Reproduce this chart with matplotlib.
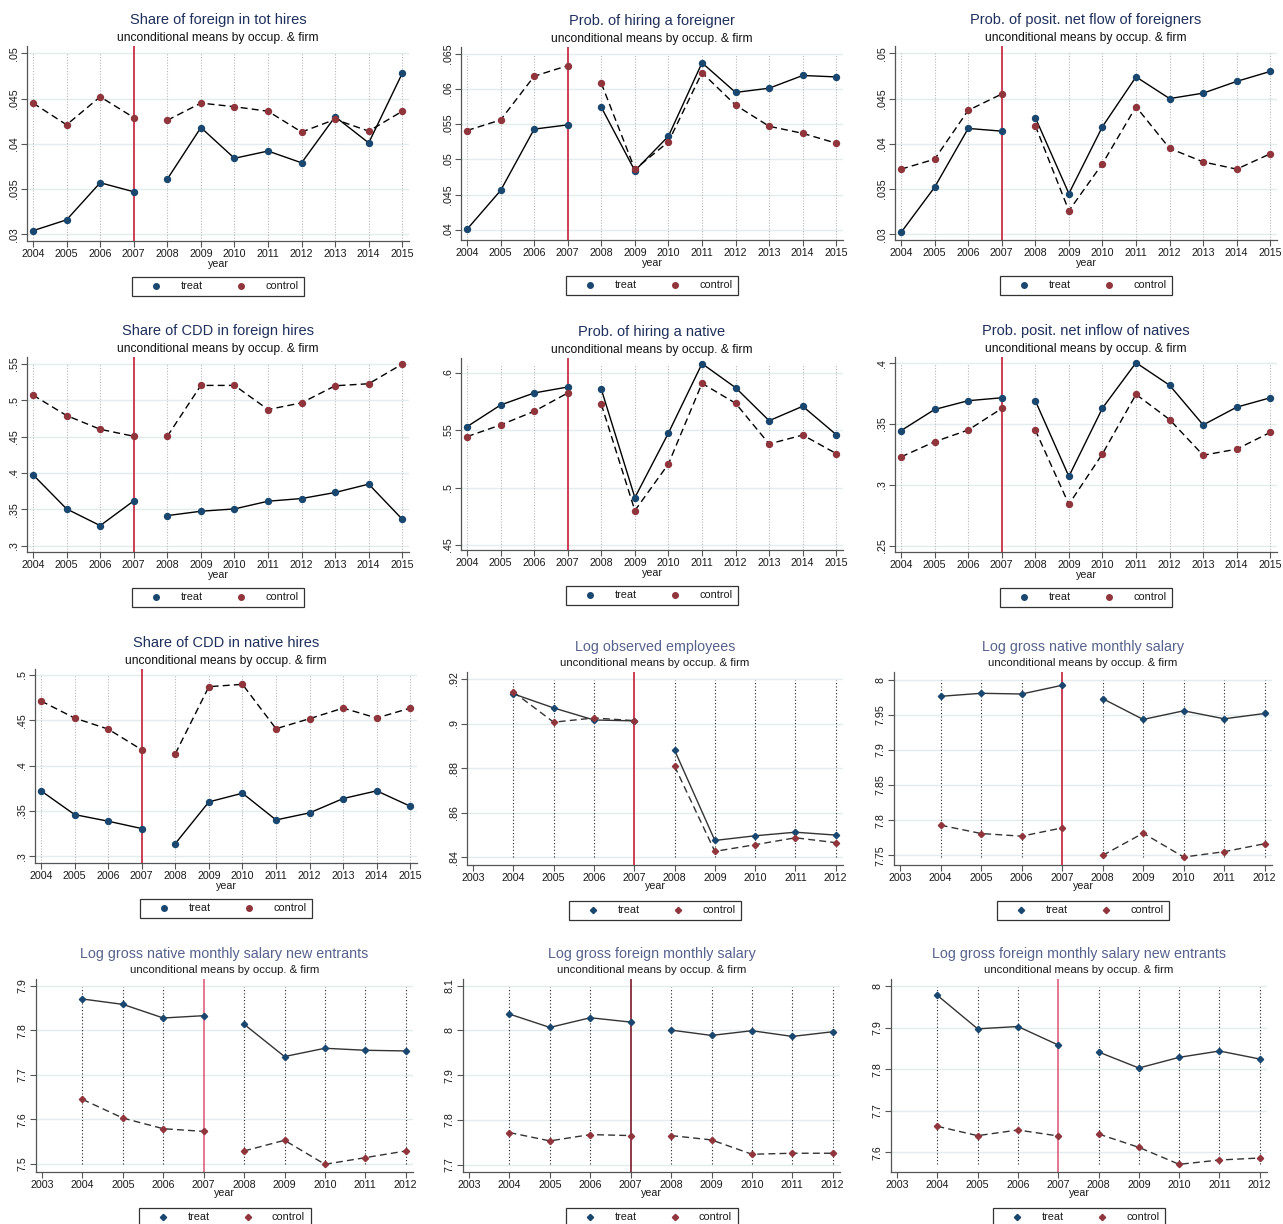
import matplotlib
matplotlib.use("Agg")
import matplotlib.pyplot as plt
from matplotlib.lines import Line2D
from matplotlib.patches import Rectangle
import numpy as np

plt.rcParams['font.family'] = ['Liberation Sans', 'DejaVu Sans']

# ---------------- data ----------------
years_a = np.arange(2004, 2016)   # panels 1-7
years_b = np.arange(2004, 2013)   # panels 8-12
ticks_a = list(range(2004, 2016))
ticks_b = list(range(2003, 2013))

subtitle = "unconditional means by occup. & firm"
titles = [
    "Share of foreign in tot hires",
    "Prob. of hiring a foreigner",
    "Prob. of posit. net flow of foreigners",
    "Share of CDD in foreign hires",
    "Prob. of hiring a native",
    "Prob. posit. net inflow of natives",
    "Share of CDD in native hires",
    "Log observed employees",
    "Log gross native monthly salary",
    "Log gross native monthly salary new entrants",
    "Log gross foreign monthly salary",
    "Log gross foreign monthly salary new entrants",
]

treat_1 = [.0304, .0316, .0357, .0347, .0361, .0418, .0384, .0392, .0379, .0430, .0401, .0478]
control_1 = [.0445, .0421, .0452, .0429, .0426, .0445, .0441, .0436, .0413, .0427, .0414, .0436]

treat_2 = [.0401, .0456, .0543, .0549, .0574, .0484, .0533, .0637, .0595, .0601, .0619, .0617]
control_2 = [.0541, .0556, .0618, .0633, .0608, .0486, .0525, .0623, .0577, .0547, .0537, .0523]

treat_3 = [.0302, .0352, .0417, .0414, .0429, .0345, .0419, .0474, .0450, .0456, .0469, .0480]
control_3 = [.0372, .0383, .0437, .0455, .0420, .0326, .0378, .0441, .0395, .0380, .0372, .0389]

treat_4 = [.3976, .3506, .3276, .3617, .3414, .3474, .3506, .3612, .3649, .3732, .3847, .3364]
control_4 = [.5072, .4791, .4602, .4506, .4506, .5206, .5206, .4874, .4966, .5201, .5229, .5500]

treat_5 = [.5532, .5721, .5826, .5878, .5858, .4913, .5477, .6082, .5872, .5584, .5710, .5462]
control_5 = [.5445, .5547, .5666, .5826, .5727, .4800, .5207, .5910, .5736, .5381, .5459, .5297]

treat_6 = [.3445, .3619, .3691, .3715, .3691, .3069, .3630, .4003, .3818, .3492, .3638, .3715]
control_6 = [.3229, .3354, .3450, .3627, .3450, .2840, .3254, .3743, .3536, .3243, .3293, .3431]

treat_7 = [.3722, .3460, .3387, .3306, .3140, .3600, .3696, .3401, .3479, .3637, .3722, .3552]
control_7 = [.4713, .4525, .4403, .4175, .4131, .4871, .4897, .4407, .4518, .4635, .4525, .4635]

treat_8 = [.9133, .9070, .9016, .9012, .8881, .8476, .8497, .8513, .8500]
control_8 = [.9142, .9006, .9025, .9013, .8809, .8427, .8457, .8488, .8466]

treat_9 = [7.9763, 7.9806, 7.9796, 7.9920, 7.9730, 7.9434, 7.9557, 7.9443, 7.9519]
control_9 = [7.7929, 7.7811, 7.7773, 7.7891, 7.7500, 7.7816, 7.7476, 7.7552, 7.7666]

treat_10 = [7.8701, 7.8581, 7.8275, 7.8327, 7.8135, 7.7410, 7.7596, 7.7551, 7.7536]
control_10 = [7.6449, 7.6030, 7.5791, 7.5731, 7.5292, 7.5531, 7.4993, 7.5142, 7.5292]

treat_11 = [8.0365, 8.0067, 8.0283, 8.0186, 8.0007, 7.9888, 7.9993, 7.9866, 7.9970]
control_11 = [7.7717, 7.7531, 7.7672, 7.7650, 7.7650, 7.7553, 7.7233, 7.7255, 7.7255]

treat_12 = [7.9783, 7.8976, 7.9032, 7.8586, 7.8418, 7.8032, 7.8289, 7.8442, 7.8249]
control_12 = [7.6627, 7.6402, 7.6538, 7.6394, 7.6442, 7.6120, 7.5711, 7.5815, 7.5863]

yticks = [
    [.03, .035, .04, .045, .05],
    [.04, .045, .05, .055, .06, .065],
    [.03, .035, .04, .045, .05],
    [.3, .35, .4, .45, .5, .55],
    [.45, .5, .55, .6],
    [.25, .3, .35, .4],
    [.3, .35, .4, .45, .5],
    [.84, .86, .88, .9, .92],
    [7.75, 7.8, 7.85, 7.9, 7.95, 8],
    [7.5, 7.6, 7.7, 7.8, 7.9],
    [7.7, 7.8, 7.9, 8, 8.1],
    [7.6, 7.7, 7.8, 7.9, 8],
]

treats = [treat_1, treat_2, treat_3, treat_4, treat_5, treat_6, treat_7,
          treat_8, treat_9, treat_10, treat_11, treat_12]
controls = [control_1, control_2, control_3, control_4, control_5, control_6, control_7,
            control_8, control_9, control_10, control_11, control_12]

# ---------------- layout (pixels) ----------------
W, H = 1283, 1224
# left, right, top, bottom
boxes = [
    (27, 409, 46, 241), (461, 843, 47, 240), (895, 1277, 46, 240),
    (27, 409, 357, 552), (461, 843, 358, 550), (895, 1277, 357, 552),
    (35, 417, 669, 863), (467, 843, 672, 865), (894, 1272, 672, 865),
    (36, 413, 979, 1172), (463, 840, 979, 1172), (891, 1267, 979, 1172),
]
ylims = [
    (.02926, .05081), (.03858, .06594), (.02937, .05081),
    (.2913, .5597), (.4456, .6131), (.2448, .4050),
    (.2926, .5066), (.8366, .9231), (7.7363, 8.0109),
    (7.482, 7.915), (7.6836, 8.1149), (7.5526, 8.0177),
]
vline_colors = ['#c41e3a'] * 9 + ['#e06080', '#7a1a2a', '#e06080']

TREAT_C = '#1a476f'
CTRL_C = '#90353b'


def fmt(v):
    s = f"{v:.4f}".rstrip('0').rstrip('.')
    if s.startswith('0.'):
        s = s[1:]
    return s


fig = plt.figure(figsize=(W / 100, H / 100), dpi=100)
fig.patch.set_facecolor('white')


def fx(px):
    return px / W


def fy(py):
    return 1 - py / H


for i in range(12):
    l, r, t, b = boxes[i]
    ax = fig.add_axes([fx(l), fy(b), (r - l) / W, (b - t) / H])
    log_style = i >= 7
    yrs = years_b if log_style else years_a
    xt = ticks_b if log_style else ticks_a
    tv = np.array(treats[i])
    cv = np.array(controls[i])

    if log_style:
        ax.set_xlim(xt[0] - 0.15, xt[-1] + 0.18)
    else:
        ax.set_xlim(xt[0] - 0.18, xt[-1] + 0.2)
    ax.set_ylim(*ylims[i])

    # horizontal grid
    for yv in yticks[i]:
        ax.axhline(yv, color='#e2eded', lw=1.0, zorder=0)
    # vertical lines
    if log_style:
        for x in range(2004, 2013):
            if x != 2007:
                ax.axvline(x, ymin=0.04, ymax=0.96, color='#222222', lw=0.8,
                           ls=(0, (1, 2)), zorder=1)
    else:
        for x in range(2004, 2016):
            if x != 2007:
                ax.axvline(x, ymin=0.0, ymax=0.965, color='#b8b8b8', lw=0.8,
                           ls=(0, (1, 1.5)), zorder=1)
    ax.axvline(2007, color=vline_colors[i], lw=1.2, zorder=2)

    pre = yrs <= 2007
    post = yrs >= 2008
    mk = 'D' if log_style else 'o'
    ms = 3.2 if log_style else 4.3
    lcol = '#333333' if log_style else 'black'
    for m in (pre, post):
        ax.plot(yrs[m], tv[m], color=lcol, lw=1.0, zorder=3)
        ax.plot(yrs[m], cv[m], color=lcol, lw=1.0, ls=(0, (5, 3)), zorder=3)
        ax.plot(yrs[m], tv[m], ls='none', marker=mk, ms=ms, color=TREAT_C, zorder=4)
        ax.plot(yrs[m], cv[m], ls='none', marker=mk, ms=ms, color=CTRL_C, zorder=4)

    for s in ('top', 'right'):
        ax.spines[s].set_visible(False)
    for s in ('left', 'bottom'):
        ax.spines[s].set_color('#555555')
        ax.spines[s].set_linewidth(0.9)

    ax.set_xticks(xt)
    ax.set_xticklabels([str(x) for x in xt], fontsize=7.7, color='#1a1a1a')
    ax.set_yticks(yticks[i])
    ax.set_yticklabels([fmt(v) for v in yticks[i]], rotation=90, va='center',
                       fontsize=7.7, color='#1a1a1a')
    ax.tick_params(axis='both', length=4, width=0.8, color='#555555', pad=2)

    cx = (l + r) / 2
    # titles
    if log_style:
        fig.text(fx(cx), fy(t - 25), titles[i], ha='center', va='center',
                 fontsize=10.3, color='#56628c')
        fig.text(fx(cx), fy(t - 9), subtitle, ha='center', va='center',
                 fontsize=8.2, color='#1a1a1a')
        fig.text(fx(cx), fy(b + 21), 'year', ha='center', va='center',
                 fontsize=7.7, color='#1a1a1a')
    else:
        fig.text(fx(cx), fy(t - 26), titles[i], ha='center', va='center',
                 fontsize=10.5, color='#1e2f5c')
        fig.text(fx(cx), fy(t - 8), subtitle, ha='center', va='center',
                 fontsize=8.7, color='#111111')
        fig.text(fx(cx), fy(b + 23), 'year', ha='center', va='center',
                 fontsize=7.7, color='#1a1a1a')

    # legend box
    ly = b + 45
    bw, bh = 172, 19
    fig.add_artist(Rectangle((fx(cx - bw / 2), fy(ly + bh / 2)), bw / W, bh / H,
                             transform=fig.transFigure, fill=False,
                             edgecolor='#333333', lw=0.9))
    lms = 3.2 if log_style else 4.0
    fig.add_artist(Line2D([fx(cx - 62)], [fy(ly)], transform=fig.transFigure,
                          marker=mk, ms=lms, color=TREAT_C, ls='none'))
    fig.add_artist(Line2D([fx(cx + 23)], [fy(ly)], transform=fig.transFigure,
                          marker=mk, ms=lms, color=CTRL_C, ls='none'))
    fig.text(fx(cx - 26), fy(ly), 'treat', ha='center', va='center',
             fontsize=7.8, color='#1a1a1a')
    fig.text(fx(cx + 64), fy(ly), 'control', ha='center', va='center',
             fontsize=7.8, color='#1a1a1a')

fig.savefig('out.png', dpi=100, facecolor='white')
